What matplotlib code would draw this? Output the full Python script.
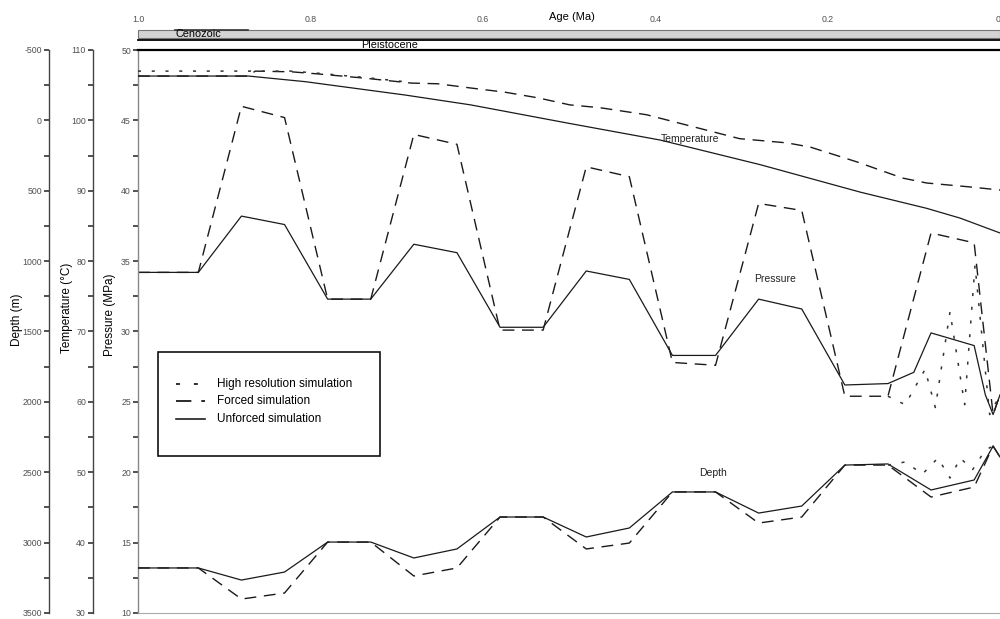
import matplotlib
matplotlib.use("Agg")
import matplotlib.pyplot as plt
from matplotlib.lines import Line2D
from matplotlib.patches import Rectangle
from matplotlib.ticker import MultipleLocator, FixedLocator, FixedFormatter

plt.rcParams['font.family'] = ['Liberation Sans', 'DejaVu Sans']
plt.rcParams['axes.unicode_minus'] = False

# ---------------- data ----------------
# Pressure (MPa) versus age (Ma)
age_p_unforced = [1.0, 0.93, 0.88, 0.83, 0.78, 0.73, 0.68, 0.63, 0.58, 0.53, 0.48, 0.43,
                  0.38, 0.33, 0.28, 0.23, 0.18, 0.13, 0.10, 0.08, 0.03, 0.017, 0.008, 0.0]
pressure_unforced = [34.2, 34.2, 38.2, 37.6, 32.3, 32.3, 36.2, 35.6, 30.3, 30.3, 34.3, 33.7,
                     28.3, 28.3, 32.3, 31.6, 26.2, 26.3, 27.1, 29.9, 29.0, 25.5, 24.1, 25.5]
age_p_forced = [1.0, 0.93, 0.88, 0.83, 0.78, 0.73, 0.68, 0.63, 0.58, 0.53, 0.48, 0.43,
                0.38, 0.33, 0.28, 0.23, 0.18, 0.13, 0.08, 0.03, 0.008, 0.0]
pressure_forced = [34.2, 34.2, 46.0, 45.2, 32.3, 32.3, 44.0, 43.3, 30.1, 30.1, 41.7, 41.0,
                   27.8, 27.6, 39.1, 38.6, 25.4, 25.4, 37.0, 36.3, 24.1, 25.5]
age_p_highres = [0.13, 0.110, 0.087, 0.075, 0.058, 0.041, 0.029, 0.012, 0.0]
pressure_highres = [25.4, 24.8, 27.3, 24.6, 31.4, 24.8, 34.7, 24.1, 25.5]

# Temperature (deg C) versus age (Ma)
age_t_unforced = [1.0, 0.872, 0.806, 0.690, 0.614, 0.501, 0.394, 0.278, 0.162, 0.085, 0.046, 0.0]
temp_unforced = [106.3, 106.3, 105.5, 103.6, 102.2, 99.6, 97.2, 93.7, 89.8, 87.5, 86.1, 84.0]
age_t_forced = [1.0, 0.872, 0.864, 0.822, 0.791, 0.737, 0.683, 0.652, 0.614, 0.574, 0.536,
                0.499, 0.464, 0.410, 0.356, 0.302, 0.247, 0.220, 0.166, 0.113, 0.085, 0.031, 0.0]
temp_forced = [106.3, 106.3, 107.0, 106.9, 106.6, 106.0, 105.3, 105.2, 104.6, 104.0, 103.2,
               102.2, 101.8, 100.8, 99.1, 97.4, 96.8, 96.2, 94.1, 91.8, 91.1, 90.5, 90.1]
age_t_highres = [1.0, 0.864, 0.822, 0.791, 0.737, 0.683]
temp_highres = [107.0, 107.0, 107.0, 106.7, 106.1, 105.4]

# Depth (m) versus age (Ma)
age_d = [1.0, 0.93, 0.88, 0.83, 0.78, 0.73, 0.68, 0.63, 0.58, 0.53, 0.48, 0.43,
         0.38, 0.33, 0.28, 0.23, 0.18, 0.13, 0.08, 0.03, 0.008, 0.0]
depth_unforced = [3180, 3180, 3266, 3209, 2996, 2996, 3109, 3045, 2818, 2818, 2960, 2896,
                  2640, 2640, 2790, 2740, 2449, 2441, 2626, 2555, 2314, 2392]
depth_forced = [3180, 3180, 3401, 3358, 2996, 2996, 3237, 3180, 2818, 2818, 3045, 3003,
                2640, 2640, 2861, 2818, 2449, 2449, 2676, 2605, 2314, 2392]
age_d_highres = [0.13, 0.110, 0.090, 0.072, 0.058, 0.046, 0.032, 0.017, 0.008, 0.0]
depth_highres = [2449, 2427, 2513, 2399, 2541, 2399, 2484, 2342, 2314, 2392]

age_ticks = [1.0, 0.8, 0.6, 0.4, 0.2, 0.0]
age_tick_labels = ['1.0', '0.8', '0.6', '0.4', '0.2', '0']

# ---------------- figure layout ----------------
W, H = 1000, 619
fig = plt.figure(figsize=(W / 100, H / 100), dpi=100)


def fx(px):
    return px / W


def fy(py):
    return 1 - py / H


L, R, T, B = 138, 1000, 50, 613
ax = fig.add_axes([fx(L), fy(B), fx(R) - fx(L), fy(T) - fy(B)])
ax_t = ax.twinx()
ax_d = ax.twinx()

axis_w = R - L
tick_kw = dict(direction='out', length=3.6, width=1.1, color='#222222',
               labelsize=6.3, labelcolor='#505050', pad=1.5)

LINE = '#1a1a1a'
solid = dict(color=LINE, lw=0.9, ls='-')
dashed = dict(color=LINE, lw=1.0, ls=(0, (8.5, 5.5)))
dotted = dict(color='#333333', lw=1.1, ls=(0, (2, 7)))

# pressure (host axis)
ax.plot(age_p_forced, pressure_forced, **dashed)
ax.plot(age_p_unforced, pressure_unforced, **solid)
ax.plot(age_p_highres, pressure_highres, **dotted)
ax.set_xlim(1.0, 0.0)
ax.set_ylim(10, 50)
ax.yaxis.set_major_locator(MultipleLocator(5))
ax.yaxis.set_minor_locator(MultipleLocator(2.5))
ax.tick_params(axis='y', which='both', **tick_kw)
ax.yaxis.set_minor_formatter(plt.NullFormatter())
ax.spines['right'].set_visible(False)
ax.spines['left'].set_color('#888888')
ax.spines['left'].set_linewidth(1.0)
ax.spines['bottom'].set_color('#aaaaaa')
ax.spines['bottom'].set_linewidth(0.8)
ax.spines['top'].set_color('black')
ax.spines['top'].set_linewidth(1.6)

# age ticks on top
ax.xaxis.tick_top()
ax.xaxis.set_major_locator(FixedLocator(age_ticks))
ax.xaxis.set_major_formatter(FixedFormatter(age_tick_labels))
ax.tick_params(axis='x', which='both', length=0, pad=19, labelsize=6.3,
               labelcolor='#505050')
# keep the label at the right edge inside the canvas
ax.xaxis.get_major_ticks()[-1].label2.set_horizontalalignment('right')

# temperature axis
ax_t.plot(age_t_forced, temp_forced, **dashed)
ax_t.plot(age_t_unforced, temp_unforced, **solid)
ax_t.plot(age_t_highres, temp_highres, **dotted)
ax_t.set_ylim(30, 110)

# depth axis (inverted)
ax_d.plot(age_d, depth_forced, **dashed)
ax_d.plot(age_d, depth_unforced, **solid)
ax_d.plot(age_d_highres, depth_highres, **dotted)
ax_d.set_ylim(3500, -500)

for tw, off, major, minor in ((ax_t, 45, 10, 5), (ax_d, 89, 500, 250)):
    tw.yaxis.set_ticks_position('left')
    tw.yaxis.set_label_position('left')
    for side in ('right', 'top', 'bottom'):
        tw.spines[side].set_visible(False)
    tw.spines['left'].set_visible(True)
    tw.spines['left'].set_position(('axes', -off / axis_w))
    tw.spines['left'].set_color('#444444')
    tw.spines['left'].set_linewidth(1.0)
    tw.yaxis.set_major_locator(MultipleLocator(major))
    tw.yaxis.set_minor_locator(MultipleLocator(minor))
    tw.yaxis.set_minor_formatter(plt.NullFormatter())
    tw.tick_params(axis='y', which='both', **tick_kw)
    tw.patch.set_visible(False)

# curve names
ax.text(0.36, 43.7, 'Temperature', fontsize=7.5, ha='center', va='center', color='#222222')
ax.text(0.261, 33.7, 'Pressure', fontsize=7.5, ha='center', va='center', color='#222222')
ax.text(0.333, 19.96, 'Depth', fontsize=7.5, ha='center', va='center', color='#222222')

# axis titles
fig.text(fx(17), fy(320), 'Depth (m)', rotation=90, fontsize=8.5, ha='center', va='center')
fig.text(fx(67), fy(308), 'Temperature (°C)', rotation=90, fontsize=8.5, ha='center', va='center')
fig.text(fx(110), fy(315), 'Pressure (MPa)', rotation=90, fontsize=8.5, ha='center', va='center')
fig.text(fx(572), fy(17), 'Age (Ma)', fontsize=8, ha='center', va='center')

# geological time band
fig.add_artist(Rectangle((fx(L), fy(38)), fx(R) - fx(L), fy(30) - fy(38),
                         transform=fig.transFigure, fc='#d4d4d4', ec='#777777', lw=0.8))
fig.add_artist(Line2D([fx(L), fx(R)], [fy(39.5), fy(39.5)], transform=fig.transFigure,
                      color='black', lw=1.3))
fig.add_artist(Line2D([fx(175), fx(248)], [fy(30), fy(30)], transform=fig.transFigure,
                      color='#333333', lw=1.2))
fig.text(fx(198), fy(34), 'Cenozoic', fontsize=7.8, ha='center', va='center')
fig.text(fx(390), fy(44.5), 'Pleistocene', fontsize=7.8, ha='center', va='center')

# legend
fig.add_artist(Rectangle((fx(158), fy(456)), fx(380) - fx(158), fy(352) - fy(456),
                         transform=fig.transFigure, fc='white', ec='#111111', lw=1.2, zorder=5))
legend_rows = [(384, dotted, 'High resolution simulation'),
               (401, dashed, 'Forced simulation'),
               (419, solid, 'Unforced simulation')]
for py, style, label in legend_rows:
    kw = dict(style)
    kw['lw'] = kw['lw'] * 1.3
    fig.add_artist(Line2D([fx(176), fx(205)], [fy(py), fy(py)], transform=fig.transFigure,
                          zorder=6, **kw))
    fig.text(fx(217), fy(py), label, fontsize=8.5, ha='left', va='center', zorder=6)

fig.savefig('out.png', dpi=100)
